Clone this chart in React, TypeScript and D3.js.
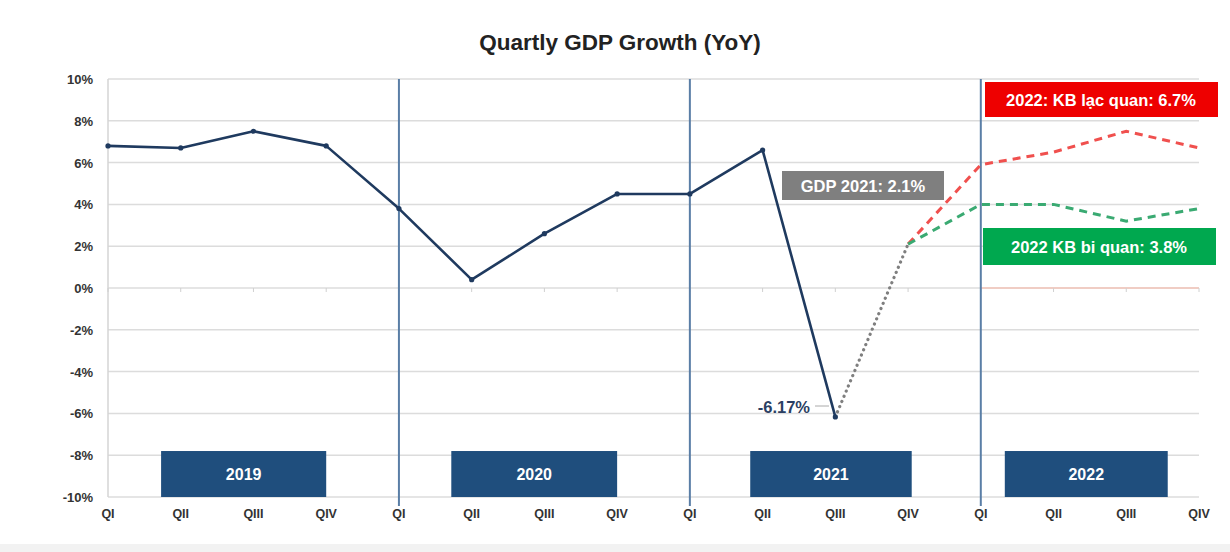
import React from "react";
import * as d3 from "d3";

const years = ["2019", "2020", "2021", "2022"];
const quarterNames = ["QI", "QII", "QIII", "QIV"];
const quarterKeys = years.flatMap((y) => quarterNames.map((q) => `${y}-${q}`));
const yTicks = [-10, -8, -6, -4, -2, 0, 2, 4, 6, 8, 10];

// actual growth 2019 QI .. 2021 QIII
const actual = [6.8, 6.7, 7.5, 6.8, 3.8, 0.4, 2.6, 4.5, 4.5, 6.6, -6.17];
// estimate 2021 QIII -> QIV
const estimate2021 = [-6.17, 2.1];
// 2022 scenarios starting from 2021 QIV
const optimistic = [2.1, 5.9, 6.5, 7.5, 6.7];
const pessimistic = [2.1, 4.0, 4.0, 3.2, 3.8];

const W = 1230;
const H = 552;
const FONT = "'Liberation Sans', Arial, Helvetica, sans-serif";

export default function App() {
  const x = d3.scalePoint<string>().domain(quarterKeys).range([108, 1199]);
  const y = d3.scaleLinear().domain([-10, 10]).range([497, 79]);
  const step = x.step();
  const xi = (i: number) => (x(quarterKeys[0]) as number) + i * step;

  const line = d3
    .line<[number, number]>()
    .x((d) => xi(d[0]))
    .y((d) => y(d[1]));

  const actualPts: [number, number][] = actual.map((v, i) => [i, v]);
  const estPts: [number, number][] = estimate2021.map((v, i) => [10 + i, v]);
  const optPts: [number, number][] = optimistic.map((v, i) => [11 + i, v]);
  const pesPts: [number, number][] = pessimistic.map((v, i) => [11 + i, v]);

  // year label boxes (in quarter-index units)
  const yearBoxes = [
    [0.73, 3.0],
    [4.72, 7.0],
    [8.83, 11.05],
    [12.33, 14.57],
  ];

  return (
    <svg
      width={W}
      height={H}
      style={{ position: "absolute", left: 0, top: 0, background: "#fff" }}
      fontFamily={FONT}
    >
      <rect x={0} y={0} width={W} height={H} fill="#fff" />
      <rect x={0} y={544} width={W} height={8} fill="#f2f2f2" />
      <text
        x={620}
        y={50}
        textAnchor="middle"
        fontSize={22.5}
        fontWeight="bold"
        fill="#222"
      >
        Quartly GDP Growth (YoY)
      </text>

      {/* gridlines */}
      {yTicks.map((t) => (
        <line
          key={t}
          x1={108}
          x2={1199}
          y1={y(t)}
          y2={y(t)}
          stroke="#dcdcdc"
          strokeWidth={1.5}
        />
      ))}
      <line
        x1={xi(12)}
        x2={1199}
        y1={y(0)}
        y2={y(0)}
        stroke="#f3c4b8"
        strokeWidth={1.5}
      />
      <line x1={108} x2={108} y1={79} y2={497} stroke="#d5d5d5" strokeWidth={1.5} />
      {quarterKeys.map((k) => (
        <line
          key={k}
          x1={x(k)}
          x2={x(k)}
          y1={y(0)}
          y2={y(0) + 4}
          stroke="#d0d0d0"
        />
      ))}

      {/* y tick labels */}
      {yTicks.map((t) => (
        <text
          key={t}
          x={93}
          y={y(t) + 5}
          textAnchor="end"
          fontSize={13}
          fontWeight="bold"
          fill="#333"
        >
          {`${t}%`}
        </text>
      ))}

      {/* x tick labels */}
      {quarterKeys.map((k, i) => (
        <text
          key={k}
          x={x(k)}
          y={518}
          textAnchor="middle"
          fontSize={12.5}
          fontWeight="bold"
          fill="#333"
        >
          {quarterNames[i % 4]}
        </text>
      ))}

      {/* year separators */}
      {[4, 8, 12].map((i) => (
        <line
          key={i}
          x1={xi(i)}
          x2={xi(i)}
          y1={79}
          y2={506}
          stroke="#5a7ea6"
          strokeWidth={2}
        />
      ))}

      {/* year boxes */}
      {yearBoxes.map(([a, b], i) => (
        <g key={years[i]}>
          <rect
            x={xi(a)}
            y={y(-7.8)}
            width={xi(b) - xi(a)}
            height={y(-10) - y(-7.8)}
            fill="#1f4e7d"
          />
          <text
            x={(xi(a) + xi(b)) / 2}
            y={(y(-7.8) + y(-10)) / 2 + 6}
            textAnchor="middle"
            fontSize={16}
            fontWeight="bold"
            fill="#fff"
          >
            {years[i]}
          </text>
        </g>
      ))}

      {/* scenario lines */}
      <path
        d={line(optPts) || ""}
        fill="none"
        stroke="#f0504e"
        strokeWidth={3}
        strokeDasharray="8 6"
      />
      <path
        d={line(pesPts) || ""}
        fill="none"
        stroke="#3aaa72"
        strokeWidth={3}
        strokeDasharray="8 6"
      />
      <path
        d={line(estPts) || ""}
        fill="none"
        stroke="#7f7f7f"
        strokeWidth={3.2}
        strokeDasharray="0.1 5.5"
        strokeLinecap="round"
      />

      {/* actual */}
      <path
        d={line(actualPts) || ""}
        fill="none"
        stroke="#1f3a5f"
        strokeWidth={2.6}
        strokeLinejoin="round"
      />
      {actualPts.map(([i, v]) => (
        <circle key={i} cx={xi(i)} cy={y(v)} r={2.6} fill="#1f3a5f" />
      ))}

      {/* -6.17% label */}
      <text
        x={810}
        y={413}
        textAnchor="end"
        fontSize={16.5}
        fontWeight="bold"
        fill="#2b3f63"
      >
        -6.17%
      </text>
      <line x1={815} x2={829} y1={406} y2={406} stroke="#aaa" strokeWidth={1} />

      {/* annotation boxes */}
      <rect x={782} y={171} width={162} height={29} fill="#7f7f7f" />
      <text x={863} y={192} textAnchor="middle" fontSize={16.5} fontWeight="bold" fill="#fff">
        GDP 2021: 2.1%
      </text>

      <rect x={985} y={82} width={233} height={35} fill="#ee0000" />
      <text x={1101} y={105.5} textAnchor="middle" fontSize={16.5} fontWeight="bold" fill="#fff">
        2022: KB lạc quan: 6.7%
      </text>

      <rect x={983} y={228} width={233} height={37} fill="#00a84f" />
      <text x={1099} y={252.5} textAnchor="middle" fontSize={16.5} fontWeight="bold" fill="#fff">
        2022 KB bi quan: 3.8%
      </text>
    </svg>
  );
}
